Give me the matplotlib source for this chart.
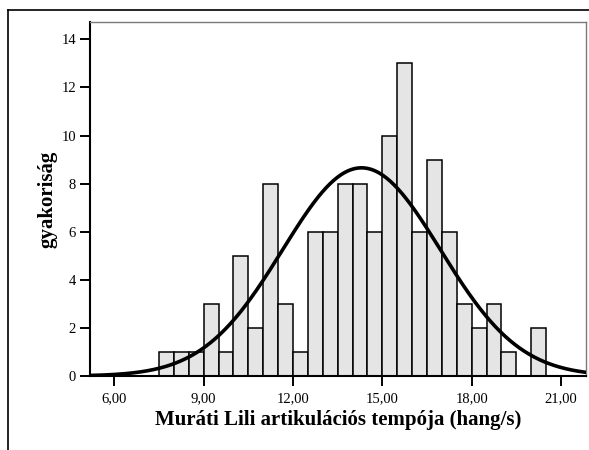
""" Histogram with normal curve """

import numpy as np
import matplotlib.pyplot as plt
from matplotlib.lines import Line2D

# histogram data (bins of 0.5 starting at 7.5)
bin_start = 7.5
bin_width = 0.5
counts = [1, 1, 1, 3, 1, 5, 2, 8, 3, 1, 6, 6, 8, 8, 6, 10, 13, 6, 9, 6, 3, 2, 3, 1, 0, 2]

# fitted normal curve parameters
curve_mean = 14.30
curve_sd = 2.65

x_ticks = [6, 9, 12, 15, 18, 21]
x_tick_labels = ["6,00", "9,00", "12,00", "15,00", "18,00", "21,00"]
y_ticks = [0, 2, 4, 6, 8, 10, 12, 14]

plt.rcParams["font.family"] = ["Liberation Serif", "DejaVu Serif"]

fig = plt.figure(figsize=(5.89, 4.5), dpi=100)
ax = fig.add_axes([90 / 589, 74 / 450, (585.7 - 90) / 589, (376 - 22) / 450])

edges = bin_start + bin_width * np.arange(len(counts))
ax.bar(edges, counts, width=bin_width, align="edge",
       facecolor="#e5e5e5", edgecolor="black", linewidth=1.1, zorder=2)

xlim = (5.18, 21.83)
xs = np.linspace(xlim[0], xlim[1], 400)
n_total = sum(counts)
ys = n_total * bin_width / (curve_sd * np.sqrt(2 * np.pi)) * \
    np.exp(-((xs - curve_mean) ** 2) / (2 * curve_sd ** 2))
ax.plot(xs, ys, color="black", linewidth=2.6, zorder=3, solid_capstyle="round")

ax.set_xlim(*xlim)
ax.set_ylim(0, 14.72)
ax.set_xticks(x_ticks)
ax.set_xticklabels(x_tick_labels)
ax.set_yticks(y_ticks)
ax.tick_params(axis="both", direction="out", length=7, width=1.4,
               labelsize=10.5, color="black")
ax.tick_params(axis="x", pad=5)
ax.tick_params(axis="y", pad=3)

for side in ("left", "bottom"):
    ax.spines[side].set_color("black")
    ax.spines[side].set_linewidth(1.5)
for side in ("top", "right"):
    ax.spines[side].set_color("#7a7a7a")
    ax.spines[side].set_linewidth(1.0)

ax.set_xlabel("Muráti Lili artikulációs tempója (hang/s)",
              fontsize=15, fontweight="bold", labelpad=3)
ax.set_ylabel("gyakoriság", fontsize=15, fontweight="bold", labelpad=3)

# outer frame (top and left)
fig.add_artist(Line2D([8 / 589, 1.0], [1 - 10 / 450, 1 - 10 / 450],
                      color="black", linewidth=1.2, transform=fig.transFigure))
fig.add_artist(Line2D([8 / 589, 8 / 589], [0.0, 1 - 10 / 450],
                      color="black", linewidth=1.2, transform=fig.transFigure))

fig.savefig("out.png", dpi=100)
